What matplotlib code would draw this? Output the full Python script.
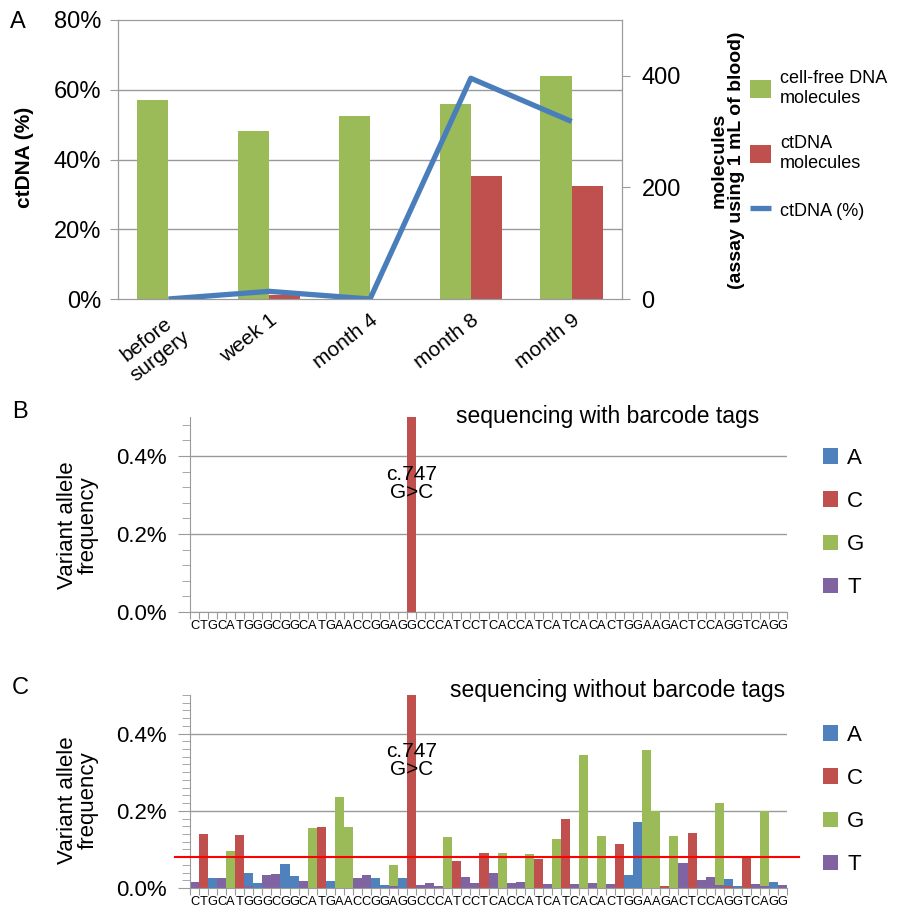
import numpy as np
import matplotlib
matplotlib.use("Agg")
import matplotlib.pyplot as plt
from matplotlib.patches import Patch

NARROW = ["Liberation Sans Narrow", "Liberation Sans", "DejaVu Sans"]
ARIAL = ["Liberation Sans", "DejaVu Sans"]
GRAY = "#9A9A9A"

# panel A: cell-free DNA follow-up
timepoints = ["before\nsurgery", "week 1", "month 4", "month 8", "month 9"]
cfdna_molecules = [357, 301, 328, 349, 399]
ctdna_molecules = [0, 6.5, 0, 221, 203]
ctdna_pct = [0.0, 2.2, 0.0, 63.3, 50.9]

# panels B/C: variant allele frequency (%) per position
sequence = "CTGCATGGGCGGCATGAACCGGAGGCCCATCCTCACCATCATCACACTGGAAGACTCCAGGTCAGG"
mutation_label = "c.747\nG>C"
mutation_index = 24
barcoded_c_vaf = 0.50
noise_cutoff = 0.08

vaf_a = [0, 0, 0.027, 0, 0, 0, 0.040, 0.014, 0, 0,
         0.061, 0.031, 0, 0, 0, 0.018, 0, 0, 0, 0,
         0.026, 0.007, 0, 0.027, 0, 0, 0, 0, 0, 0,
         0, 0, 0, 0, 0, 0, 0, 0, 0, 0,
         0, 0, 0, 0, 0, 0, 0, 0, 0.034, 0.170,
         0, 0, 0, 0, 0, 0, 0, 0, 0, 0.023,
         0.006, 0, 0, 0, 0.015, 0]
vaf_c = [0, 0.141, 0, 0, 0, 0.138, 0, 0, 0, 0,
         0, 0, 0, 0, 0.159, 0, 0, 0, 0, 0,
         0, 0, 0, 0, 0.50, 0, 0, 0, 0, 0.071,
         0, 0, 0.091, 0, 0, 0, 0, 0, 0.074, 0,
         0, 0.179, 0, 0, 0, 0, 0, 0.115, 0, 0,
         0, 0, 0.004, 0, 0, 0.143, 0, 0, 0, 0.006,
         0, 0.080, 0, 0, 0, 0]
vaf_g = [0, 0, 0, 0, 0.096, 0, 0, 0, 0, 0,
         0, 0, 0, 0.155, 0, 0, 0.235, 0.157, 0, 0,
         0, 0, 0.059, 0, 0, 0, 0, 0, 0.131, 0,
         0, 0, 0, 0, 0.091, 0, 0, 0.087, 0, 0,
         0.126, 0, 0, 0.345, 0, 0.136, 0, 0, 0, 0,
         0.358, 0.200, 0, 0.136, 0, 0, 0, 0, 0.220, 0,
         0, 0, 0, 0.200, 0, 0]
vaf_t = [0.015, 0, 0, 0.025, 0, 0, 0.005, 0, 0.034, 0.037,
         0, 0, 0.019, 0, 0, 0, 0, 0, 0.025, 0.034,
         0, 0, 0.005, 0, 0, 0.009, 0.012, 0.006, 0, 0,
         0.028, 0.014, 0, 0.038, 0, 0.013, 0.016, 0, 0, 0.010,
         0, 0, 0.010, 0, 0.012, 0, 0.010, 0, 0, 0,
         0, 0, 0, 0, 0.064, 0, 0.022, 0.028, 0.008, 0,
         0, 0, 0.010, 0.005, 0, 0.008]

colors = {"A": "#4F81BD", "C": "#C0504D", "G": "#9BBB59", "T": "#8064A2"}

W, H = 905, 916


def rect(x0, y0, x1, y1):
    # pixel box (top-left origin) -> figure fraction
    return [x0 / W, 1 - y1 / H, (x1 - x0) / W, (y1 - y0) / H]


def draw_vaf(ax, series, minor_step, show_cutoff):
    x = np.arange(len(sequence))
    for base in "ACGT":
        ax.bar(x, series[base], width=1.0, color=colors[base], linewidth=0, zorder=2)
    ax.set_xlim(-0.5, len(sequence) - 0.5)
    ax.set_ylim(0, 0.5)
    yt = [0, 0.2, 0.4]
    ax.set_yticks(yt)
    ax.set_yticklabels([f"{v:.1f}%" for v in yt], fontsize=16, family=ARIAL)
    ax.set_yticks(np.arange(0, 0.5001, minor_step), minor=True)
    ax.yaxis.grid(True, which="major", color=GRAY, lw=1)
    ax.set_axisbelow(True)
    ax.set_xticks(np.arange(len(sequence) + 1) - 0.5)
    ax.set_xticklabels([])
    ax.set_xticks(x, minor=True)
    ax.set_xticklabels(list(sequence), minor=True, fontsize=9.3, family=ARIAL)
    ax.tick_params(axis="x", which="major", length=5, color=GRAY)
    ax.tick_params(axis="x", which="minor", length=0, pad=6)
    ax.tick_params(axis="y", which="major", length=9, color=GRAY, pad=8)
    ax.tick_params(axis="y", which="minor", length=6, color=GRAY)
    for s in ("top", "right"):
        ax.spines[s].set_visible(False)
    for s in ("left", "bottom"):
        ax.spines[s].set_color(GRAY)
    ax.text(mutation_index, 0.33, mutation_label, ha="center", va="center",
            fontsize=15, linespacing=0.95, family=ARIAL, zorder=5)
    if show_cutoff:
        ax.plot([-0.025, 1.02], [noise_cutoff, noise_cutoff], color="red", lw=1.5,
                transform=ax.get_yaxis_transform(), clip_on=False, zorder=4)
    handles = [Patch(facecolor=colors[b], edgecolor="none") for b in "ACGT"]
    ax.legend(handles, list("ACGT"), loc="center left", bbox_to_anchor=(1.06, 0.456),
              frameon=False, prop={"family": ARIAL, "size": 16},
              handlelength=0.7, handleheight=0.7, handletextpad=0.4,
              labelspacing=1.0, borderpad=0, borderaxespad=0)


fig = plt.figure(figsize=(W / 100, H / 100), dpi=100)

# ---- panel A ----
ax_mol = fig.add_axes(rect(118, 20, 622, 299))
ax_pct = ax_mol.twinx()

xc = np.arange(len(timepoints))
bw = 0.31
ax_mol.bar(xc - bw / 2, cfdna_molecules, width=bw, color=colors["G"], linewidth=0, zorder=2,
           label="cell-free DNA\nmolecules")
ax_mol.bar(xc + bw / 2, ctdna_molecules, width=bw, color=colors["C"], linewidth=0, zorder=2,
           label="ctDNA\nmolecules")
ax_mol.set_xlim(-0.5, len(timepoints) - 0.5)
ax_mol.set_ylim(0, 500)
ax_mol.yaxis.tick_right()
ax_mol.set_yticks([0, 200, 400])
ax_mol.set_yticklabels(["0", "200", "400"], fontsize=17, family=NARROW)
ax_mol.set_yticks([125, 250, 375], minor=True)
ax_mol.yaxis.grid(True, which="minor", color=GRAY, lw=1)
ax_mol.set_axisbelow(True)
ax_mol.tick_params(axis="y", which="major", length=6, color=GRAY, pad=8)
ax_mol.tick_params(axis="y", which="minor", length=0)
ax_mol.set_xticks(xc)
ax_mol.set_xticklabels(timepoints, fontsize=15, family=NARROW, rotation=38,
                       ha="right", va="top", rotation_mode="anchor", multialignment="center")
ax_mol.tick_params(axis="x", length=0, pad=8)
for s in ax_mol.spines.values():
    s.set_color(GRAY)

ax_pct.yaxis.tick_left()
ax_pct.plot(xc, ctdna_pct, color="#4A7EBB", lw=3.8, solid_joinstyle="round",
            solid_capstyle="butt", zorder=3, label="ctDNA (%)")
ax_pct.set_ylim(0, 80)
ax_pct.set_yticks([0, 20, 40, 60, 80])
ax_pct.set_yticklabels([f"{v}%" for v in [0, 20, 40, 60, 80]], fontsize=17, family=NARROW)
ax_pct.tick_params(axis="y", length=6, color=GRAY, pad=6)
for s in ax_pct.spines.values():
    s.set_color(GRAY)

h1, l1 = ax_mol.get_legend_handles_labels()
h2, l2 = ax_pct.get_legend_handles_labels()
ax_pct.legend(h1 + h2, l1 + l2, loc="center left", bbox_to_anchor=(1.254, 0.552),
              frameon=False, prop={"family": NARROW, "size": 13},
              handlelength=1.15, handleheight=1.15, handletextpad=0.5,
              labelspacing=1.6, borderpad=0, borderaxespad=0)

fig.text(25 / W, 1 - 157 / H, "ctDNA (%)", rotation=90, ha="center", va="center",
         fontsize=15, fontweight="bold", family=ARIAL)
fig.text(728 / W, 1 - 160 / H, "molecules\n(assay using 1 mL of blood)", rotation=90,
         ha="center", va="center", fontsize=14, fontweight="bold", family=ARIAL,
         multialignment="center", linespacing=1.0)
fig.text(18 / W, 1 - 22 / H, "A", ha="center", va="center", fontsize=17, family=NARROW)

# ---- panel B ----
barcoded = {b: np.zeros(len(sequence)) for b in "ACGT"}
barcoded["C"][mutation_index] = barcoded_c_vaf
ax_b = fig.add_axes(rect(190, 417, 787, 612))
draw_vaf(ax_b, barcoded, 0.04, False)
fig.text(20 / W, 1 - 412 / H, "B", ha="center", va="center", fontsize=17, family=ARIAL)
fig.text(608 / W, 1 - 417 / H, "sequencing with barcode tags", ha="center", va="center",
         fontsize=16.5, family=ARIAL)
fig.text(78 / W, 1 - 525 / H, "Variant allele\nfrequency", rotation=90, ha="center",
         va="center", fontsize=16, family=ARIAL, multialignment="center", linespacing=1.0)

# ---- panel C ----
raw = {"A": vaf_a, "C": vaf_c, "G": vaf_g, "T": vaf_t}
ax_c = fig.add_axes(rect(190, 695, 787, 888))
draw_vaf(ax_c, raw, 0.02, True)
fig.text(20 / W, 1 - 688 / H, "C", ha="center", va="center", fontsize=17, family=ARIAL)
fig.text(618 / W, 1 - 690 / H, "sequencing without barcode tags", ha="center", va="center",
         fontsize=16.5, family=ARIAL)
fig.text(78 / W, 1 - 800 / H, "Variant allele\nfrequency", rotation=90, ha="center",
         va="center", fontsize=16, family=ARIAL, multialignment="center", linespacing=1.0)

fig.savefig("out.png", dpi=100, facecolor="white")
